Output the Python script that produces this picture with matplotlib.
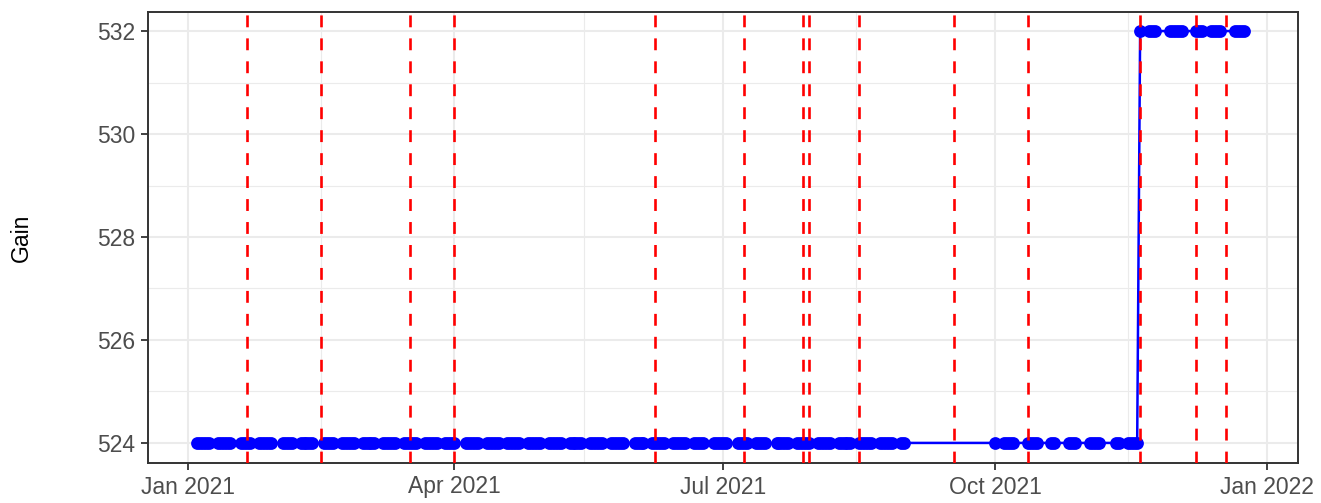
import matplotlib
matplotlib.use("Agg")
import matplotlib.pyplot as plt
import matplotlib.dates as mdates
import numpy as np
import pandas as pd

plt.rcParams["font.family"] = ["Liberation Sans", "DejaVu Sans"]

run_starts = ["2021-01-04", "2021-10-01", "2021-10-12", "2021-10-20", "2021-10-26",
              "2021-11-02", "2021-11-11", "2021-11-19", "2021-11-29", "2021-12-08",
              "2021-12-21"]
run_ends = ["2021-08-31", "2021-10-07", "2021-10-15", "2021-10-21", "2021-10-28",
            "2021-11-05", "2021-11-18", "2021-11-24", "2021-12-03", "2021-12-16",
            "2021-12-24"]
run_gain = [524, 524, 524, 524, 524, 524, 524, 532, 532, 532, 532]
missing_days = ["2021-01-18", "2021-02-01", "2021-02-15", "2021-04-02", "2021-05-31",
                "2021-06-25", "2021-07-05", "2021-07-16", "2021-09-06"]

# dates of the red dashed event lines
event_dates = ["2021-01-21", "2021-02-15", "2021-03-17", "2021-04-01", "2021-06-08",
               "2021-07-08", "2021-07-28", "2021-07-30", "2021-08-16", "2021-09-17",
               "2021-10-12", "2021-11-19", "2021-12-08", "2021-12-18"]

frames = []
for start, end, gain in zip(run_starts, run_ends, run_gain):
    days = pd.bdate_range(start, end)
    frames.append(pd.DataFrame({"date": days, "gain": gain}))
data = pd.concat(frames, ignore_index=True)
data = data[~data["date"].isin(pd.to_datetime(missing_days))]

fig = plt.figure(figsize=(13.21, 5.03), dpi=100)
ax = fig.add_axes([148 / 1321, 40 / 503, 1150 / 1321, 451 / 503])

ax.plot(data["date"], data["gain"], color="blue", linewidth=1.8, zorder=3)
ax.plot(data["date"], data["gain"], "o", color="blue", markersize=9.2,
        markeredgewidth=0, zorder=4)

for d in event_dates:
    ax.axvline(pd.Timestamp(d), color="red", linestyle=(0, (4.5, 4.2)),
               linewidth=1.9, zorder=5)

ax.set_xlim(pd.Timestamp("2021-01-01") - pd.Timedelta(days=13.6),
            pd.Timestamp("2021-01-01") + pd.Timedelta(days=375.4))
ax.set_ylim(523.61, 532.37)

ax.xaxis.set_major_locator(mdates.MonthLocator(bymonth=[1, 4, 7, 10]))
ax.xaxis.set_major_formatter(mdates.DateFormatter("%b %Y"))
ax.xaxis.set_minor_locator(mdates.MonthLocator(bymonth=[2, 5, 8, 11], bymonthday=15))
ax.set_yticks([524, 526, 528, 530, 532])
ax.set_yticks([525, 527, 529, 531], minor=True)

ax.grid(True, which="major", color="#EBEBEB", linewidth=1.5, zorder=0)
ax.grid(True, which="minor", color="#EBEBEB", linewidth=0.8, zorder=0)
ax.set_axisbelow(True)

for s in ax.spines.values():
    s.set_color("#333333")
    s.set_linewidth(1.4)

ax.tick_params(which="major", length=5, width=1.3, color="#333333",
               labelcolor="#4D4D4D", labelsize=16.5, pad=4)
ax.tick_params(which="minor", length=0)

ax.set_ylabel("Gain", fontsize=16.5, color="black", labelpad=46)

fig.savefig("out.png", dpi=100)
